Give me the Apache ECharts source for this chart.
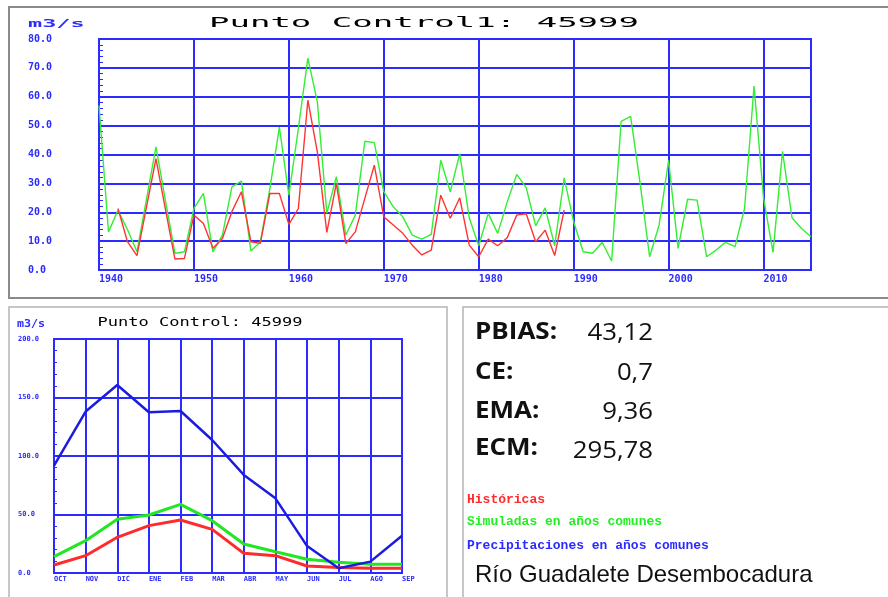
<!DOCTYPE html>
<html><head><meta charset="utf-8">
<script src="https://cdn.jsdelivr.net/npm/echarts@6/dist/echarts.min.js"></script>
<style>html,body{margin:0;padding:0;background:#fff}#c{width:888px;height:597px}</style>
</head><body><div id="c"></div>
<script>
// ---- data ----
const years = [];
for (let y = 1940; y <= 2015; y++) years.push(String(y));

const simulatedAnnual = [
  57, 13.2, 20.7, 14, 6.3, 24.5, 42.6, 24, 5.8, 6.3,
  21.3, 26.5, 6.3, 12.1, 28.8, 30.8, 6.6, 9.8, 28.2, 49.5,
  25.9, 49, 73.4, 58.2, 19.6, 32.3, 12.1, 19, 44.6, 44.1,
  27.1, 21.9, 18.4, 12.1, 10.7, 12.3, 38, 27.1, 40.3, 18.1,
  8.4, 19.6, 12.7, 23.6, 33.1, 28.5, 15.3, 21.5, 8.4, 31.9,
  16.7, 6.3, 5.8, 9.6, 3.1, 51.5, 53.2, 30, 4.6, 15.6,
  38, 7.5, 24.5, 24.2, 4.6, 6.9, 9.6, 8.1, 21.3, 63.7,
  25, 6.1, 41.1, 18.1, 14.4, 11.5
];
const historicalAnnual = [
  null, null, 21.3, 9.8, 5, 21.8, 38.6, 21, 3.8, 4,
  19, 16.1, 7.5, 10.9, 20.2, 27.1, 9.8, 9.2, 26.5, 26.5,
  15.8, 21.3, 58.8, 40.9, 13, 30, 9.2, 13.2, 24.8, 36.3,
  18.4, 15.6, 12.7, 8.6, 5.2, 6.9, 25.9, 17.9, 25, 8.6,
  4.6, 10.7, 8.4, 11.2, 19, 19.5, 9.8, 13.8, 5, 20.7
];

const months = ['OCT','NOV','DIC','ENE','FEB','MAR','ABR','MAY','JUN','JUL','AGO','SEP'];
const precipMonthly = [91.7, 138, 160.7, 137.4, 138.5, 113.7, 83.8, 63.8, 23, 4, 9.7, 31.9];
const simulatedMonthly = [14, 27.6, 46, 49.6, 58.7, 44.7, 24.8, 18.2, 11.7, 9.1, 7.4, 7.4];
const historicalMonthly = [6.8, 14.8, 30.5, 40.5, 45.3, 37.3, 16.8, 14.8, 6, 4.6, 4, 4];

const statLabels = ['PBIAS:', 'CE:', 'EMA:', 'ECM:'];
const statValues = ['43,12', '0,7', '9,36', '295,78'];
const legendLabels = ['Históricas', 'Simuladas en años comunes', 'Precipitaciones en años comunes'];
const riverName = 'Río Guadalete Desembocadura';
const titleTop = 'Punto Control1: 45999';
const titleBottom = 'Punto Control: 45999';
const unitLabel = 'm3/s';

// ---- styles ----
const BLUE = '#2b2bff';
const GREEN = '#33ee33';
const RED = '#ff3333';
const MONO = '"DejaVu Sans Mono", "Liberation Mono", monospace';
const legendColors = ['#ff2a2a', '#22ee22', '#2a2aff'];

const chart = echarts.init(document.getElementById('c'), null, {renderer: 'canvas'});

const graphics = [
  {type: 'rect', z: -10, shape: {x: 9, y: 7, width: 900, height: 291}, style: {fill: 'none', stroke: '#8a8a8a', lineWidth: 2}},
  {type: 'rect', z: -10, shape: {x: 9, y: 307, width: 438, height: 300}, style: {fill: 'none', stroke: '#b4b4b4', lineWidth: 1.5}},
  {type: 'rect', z: -10, shape: {x: 463, y: 307, width: 440, height: 300}, style: {fill: 'none', stroke: '#b4b4b4', lineWidth: 1.5}},
  {type: 'text', x: 424, y: 23, scaleX: 2.43, style: {text: titleTop, fontFamily: MONO, fontSize: 14, fill: '#000', align: 'center', verticalAlign: 'middle'}},
  {type: 'text', x: 28, y: 24, scaleX: 2.35, style: {text: unitLabel, fontFamily: MONO, fontSize: 10, fontWeight: 'bold', fill: BLUE, align: 'left', verticalAlign: 'middle'}},
  {type: 'text', x: 200, y: 323, scaleX: 1.42, style: {text: titleBottom, fontFamily: MONO, fontSize: 12, fill: '#000', align: 'center', verticalAlign: 'middle'}},
  {type: 'text', x: 17, y: 324, scaleX: 1.06, style: {text: unitLabel, fontFamily: MONO, fontSize: 11, fontWeight: 'bold', fill: BLUE, align: 'left', verticalAlign: 'middle'}},
  {type: 'text', x: 475, y: 575, style: {text: riverName, fontFamily: '"Liberation Sans", Arial, sans-serif', fontSize: 24, fill: '#111', align: 'left', verticalAlign: 'middle'}}
];
const statY = [332, 372, 411, 448];
statLabels.forEach((t, i) => {
  graphics.push({type: 'text', x: 475, y: statY[i], scaleX: 1.13, style: {text: t, fontFamily: '"Open Sans", sans-serif', fontSize: 23, fontWeight: 'bold', fill: '#111', align: 'left', verticalAlign: 'middle'}});
  graphics.push({type: 'text', x: 653, y: statY[i] + (i === 3 ? 3 : 1), scaleX: 1.12, style: {text: statValues[i], fontFamily: '"Open Sans", sans-serif', fontSize: 23, fill: '#111', align: 'right', verticalAlign: 'middle'}});
});
const legY = [500, 522, 546];
legendLabels.forEach((t, i) => {
  graphics.push({type: 'text', x: 467, y: legY[i], style: {text: t, fontFamily: '"Liberation Mono", monospace', fontSize: 13, fontWeight: 'bold', fill: legendColors[i], align: 'left', verticalAlign: 'middle'}});
});

const every10 = (i) => i % 10 === 0;

const option = {
  animation: false,
  backgroundColor: '#fff',
  graphic: graphics,
  grid: [
    {left: 99, top: 39, width: 712, height: 231, show: true, borderColor: BLUE, borderWidth: 2, backgroundColor: 'transparent'},
    {left: 54, top: 339, width: 348, height: 234, show: true, borderColor: BLUE, borderWidth: 2, backgroundColor: 'transparent'}
  ],
  xAxis: [
    {
      gridIndex: 0, type: 'category', data: years, boundaryGap: false,
      axisLine: {show: true, lineStyle: {color: BLUE, width: 2}},
      axisTick: {show: false},
      axisLabel: {interval: every10, align: 'left', margin: 4, color: BLUE, fontSize: 10, fontWeight: 'bold', fontFamily: MONO},
      splitLine: {show: true, interval: every10, lineStyle: {color: BLUE, width: 2}}
    },
    {
      gridIndex: 1, type: 'category', data: months, boundaryGap: false,
      axisLine: {show: true, lineStyle: {color: BLUE, width: 2}},
      axisTick: {show: false},
      axisLabel: {interval: 0, align: 'left', margin: 3, color: BLUE, fontSize: 7, fontWeight: 'bold', fontFamily: MONO},
      splitLine: {show: true, interval: 0, lineStyle: {color: BLUE, width: 2}}
    }
  ],
  yAxis: [
    {
      gridIndex: 0, type: 'value', min: 0, max: 80, interval: 10,
      axisLine: {show: true, lineStyle: {color: BLUE, width: 2}},
      axisTick: {show: true, inside: true, length: 5, lineStyle: {color: BLUE}},
      minorTick: {show: true, splitNumber: 5, length: 4, lineStyle: {color: BLUE, width: 1}},
      axisLabel: {formatter: (v) => v.toFixed(1), align: 'left', margin: 71, color: BLUE, fontSize: 10, fontWeight: 'bold', fontFamily: MONO},
      splitLine: {show: true, lineStyle: {color: BLUE, width: 2}}
    },
    {
      gridIndex: 1, type: 'value', min: 0, max: 200, interval: 50,
      axisLine: {show: true, lineStyle: {color: BLUE, width: 2}},
      axisTick: {show: true, inside: true, length: 3, lineStyle: {color: BLUE}},
      minorTick: {show: true, splitNumber: 5, length: 3, lineStyle: {color: BLUE, width: 1}},
      axisLabel: {formatter: (v) => v.toFixed(1), align: 'left', margin: 36, color: BLUE, fontSize: 7, fontWeight: 'bold', fontFamily: MONO},
      splitLine: {show: true, lineStyle: {color: BLUE, width: 2}}
    }
  ],
  series: [
    {name: 'Simuladas', type: 'line', xAxisIndex: 0, yAxisIndex: 0, data: simulatedAnnual, showSymbol: false, color: GREEN, lineStyle: {color: GREEN, width: 1.4}, silent: true},
    {name: 'Históricas', type: 'line', xAxisIndex: 0, yAxisIndex: 0, data: historicalAnnual, showSymbol: false, color: RED, lineStyle: {color: RED, width: 1.4}, silent: true},
    {name: 'Históricas mensual', type: 'line', xAxisIndex: 1, yAxisIndex: 1, data: historicalMonthly, showSymbol: false, color: '#ff2a2a', lineStyle: {color: '#ff2a2a', width: 3}, silent: true},
    {name: 'Simuladas mensual', type: 'line', xAxisIndex: 1, yAxisIndex: 1, data: simulatedMonthly, showSymbol: false, color: '#22e622', lineStyle: {color: '#22e622', width: 3}, silent: true},
    {name: 'Precipitaciones mensual', type: 'line', xAxisIndex: 1, yAxisIndex: 1, data: precipMonthly, showSymbol: false, color: '#1c1ce0', lineStyle: {color: '#1c1ce0', width: 2.5}, silent: true}
  ]
};
chart.setOption(option);
</script>
</body></html>
